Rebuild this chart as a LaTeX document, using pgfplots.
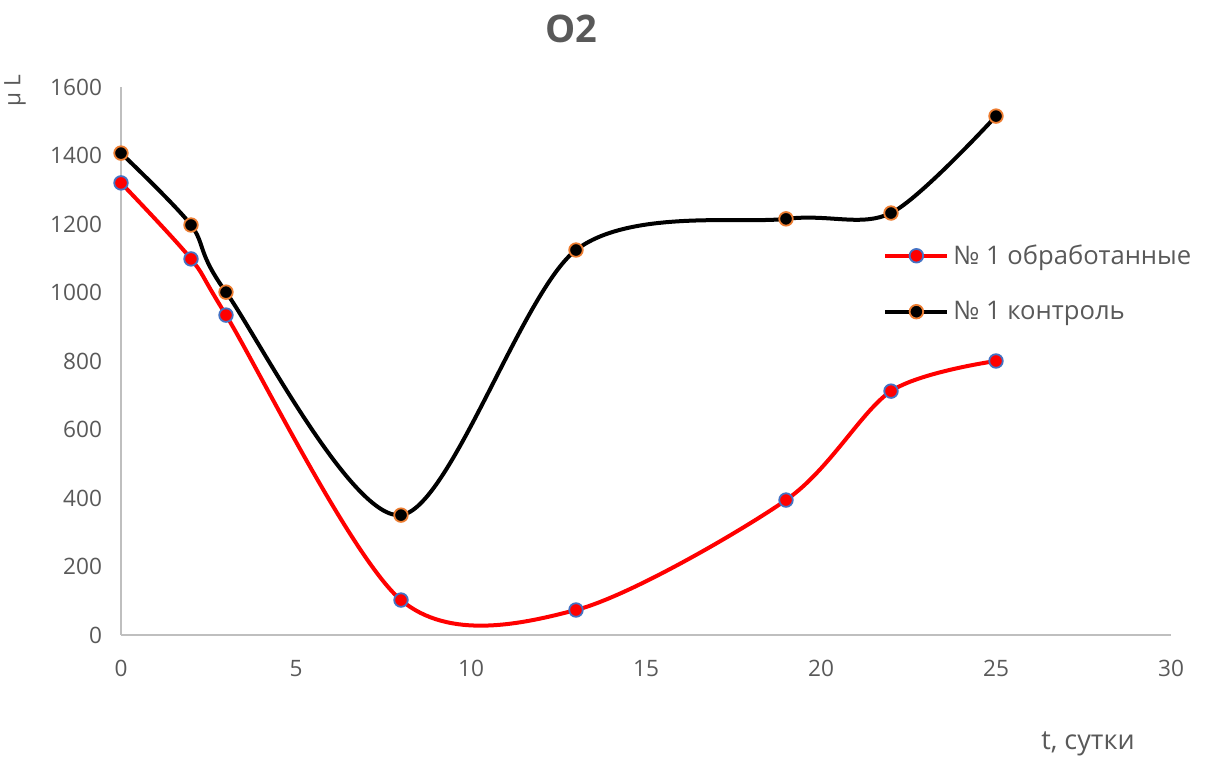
\documentclass[border=0pt]{standalone}
\usepackage{pgfplots}
\pgfplotsset{compat=1.18}
\usepackage{fontspec}
\setmainfont{Open Sans}
\definecolor{txt}{HTML}{595959}
\definecolor{axl}{HTML}{BFBFBF}
\definecolor{mblue}{HTML}{4472C4}
\definecolor{morange}{HTML}{ED7D31}
\begin{document}
\begin{tikzpicture}[x=1pt,y=1pt]
\path[use as bounding box] (0,0) rectangle (607.5,382.5);
\begin{axis}[
  at={(60.5pt,65pt)}, anchor=origin,
  scale only axis, width=525pt, height=274pt,
  xmin=0, xmax=30, ymin=0, ymax=1600,
  xtick={0,5,...,30}, ytick={0,200,...,1600},
  axis x line*=bottom, axis y line*=left,
  axis line style={axl, line width=0.8pt, -},
  major tick length=0pt,
  tick label style={font=\fontsize{11.3}{13}\selectfont, text=txt},
  /pgf/number format/assume math mode=true,
  /pgf/number format/1000 sep={},
  xticklabel style={yshift=-9pt},
  yticklabel style={xshift=-6pt},
  clip=false,
  legend cell align=left,
  legend style={draw=none, fill=none, at={(0.72,0.728)}, anchor=north west,
    font=\fontsize{12.8}{14}\selectfont, text=txt, row sep=13pt},
  legend image code/.code={\draw[#1, mark repeat=2, mark phase=2] plot coordinates {(0pt,0pt)(15.5pt,0pt)(31pt,0pt)};},
]
\addplot[red, line width=2pt, smooth, tension=0.5, mark=*, mark size=3.4pt,
  mark options={fill=red, draw=mblue, line width=0.9pt, solid}]
  coordinates {(0,1320)(2,1098)(3,934)(8,102)(13,73)(19,394)(22,712)(25,800)};
\addlegendentry{№ 1 обработанные}
\addplot[black, line width=2pt, smooth, tension=0.5, mark=*, mark size=3.4pt,
  mark options={fill=black, draw=morange, line width=0.9pt, solid}]
  coordinates {(0,1407)(2,1197)(3,1001)(8,350)(13,1124)(19,1215)(22,1232)(25,1515)};
\addlegendentry{№ 1 контроль}
\end{axis}
\node[font=\fontsize{19}{22}\selectfont\bfseries, text=txt] at (285.5,368) {O2};
\node[font=\fontsize{11.3}{13}\selectfont, text=txt, rotate=90] at (7.5,337) {µ L};
\node[font=\fontsize{13.5}{15}\selectfont, text=txt] at (544,10.5) {t, сутки};
\end{tikzpicture}
\end{document}
